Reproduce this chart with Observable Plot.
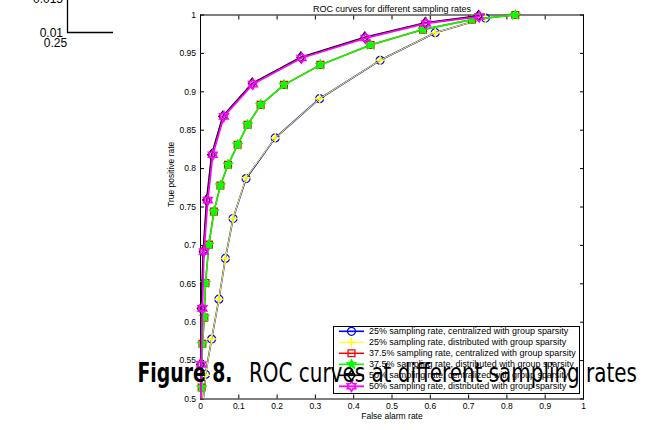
<!DOCTYPE html>
<html><head><meta charset="utf-8">
<script src="https://cdn.jsdelivr.net/npm/d3@7"></script>
<script src="https://cdn.jsdelivr.net/npm/@observablehq/plot@0.6"></script>
<style>html,body{margin:0;padding:0;background:#fff;} #chart{width:654px;height:430px;overflow:hidden;position:relative;}</style>
</head><body><div id="chart"></div>
<script>
// ---- data ----
const seriesNames = [
  "25% sampling rate, centralized with group sparsity",
  "25% sampling rate, distributed with group sparsity",
  "37.5% sampling rate, centralized with group sparsity",
  "37.5% sampling rate, distributed with group sparsity",
  "50% sampling rate, centralized with group sparsity",
  "50% sampling rate, distributed with group sparsity"
];
const fpr25c = [0.004, 0.013, 0.029, 0.048, 0.065, 0.085, 0.119, 0.195, 0.311, 0.469, 0.613, 0.744];
const tpr25c = [0.480, 0.532, 0.578, 0.630, 0.683, 0.735, 0.787, 0.840, 0.891, 0.941, 0.977, 0.996];
const fpr25d = [0.004, 0.013, 0.029, 0.048, 0.065, 0.085, 0.119, 0.195, 0.311, 0.469, 0.613, 0.744];
const tpr25d = [0.480, 0.531, 0.578, 0.630, 0.683, 0.735, 0.788, 0.840, 0.891, 0.941, 0.977, 0.996];
const fpr37c = [0.001, 0.003, 0.005, 0.010, 0.013, 0.022, 0.035, 0.052, 0.072, 0.097, 0.123, 0.157, 0.218, 0.313, 0.444, 0.581, 0.709, 0.822];
const tpr37c = [0.470, 0.515, 0.572, 0.606, 0.651, 0.701, 0.744, 0.778, 0.805, 0.831, 0.857, 0.883, 0.909, 0.935, 0.961, 0.981, 0.994, 1.000];
const fpr37d = [0.001, 0.003, 0.005, 0.010, 0.013, 0.022, 0.035, 0.052, 0.072, 0.097, 0.123, 0.157, 0.218, 0.313, 0.444, 0.581, 0.709, 0.822];
const tpr37d = [0.470, 0.515, 0.572, 0.607, 0.651, 0.701, 0.744, 0.778, 0.805, 0.831, 0.857, 0.883, 0.909, 0.935, 0.961, 0.981, 0.994, 1.000];
const fpr50c = [0.000, 0.000, 0.002, 0.007, 0.016, 0.029, 0.058, 0.135, 0.262, 0.429, 0.587, 0.726];
const tpr50c = [0.450, 0.545, 0.618, 0.692, 0.759, 0.818, 0.868, 0.911, 0.945, 0.971, 0.990, 0.999];
const fpr50d = [0.000, 0.002, 0.005, 0.009, 0.019, 0.032, 0.061, 0.137, 0.264, 0.431, 0.589, 0.728];
const tpr50d = [0.450, 0.545, 0.618, 0.692, 0.759, 0.818, 0.868, 0.910, 0.944, 0.970, 0.989, 0.998];
const xTicks = [0, 0.1, 0.2, 0.3, 0.4, 0.5, 0.6, 0.7, 0.8, 0.9, 1];
const yTicks = [0.5, 0.55, 0.6, 0.65, 0.7, 0.75, 0.8, 0.85, 0.9, 0.95, 1];
const titleText = "ROC curves for different sampling rates";
const xLabel = "False alarm rate";
const yLabel = "True positive rate";
const captionBold = "Figure 8.";
const captionRest = "ROC curves at different sampling rates";

// ---- symbols ----
const rad = s => Math.sqrt(s / Math.PI);
const symPlus = {draw(c, s){const r = rad(s)*1.2; c.moveTo(-r,0); c.lineTo(r,0); c.moveTo(0,-r); c.lineTo(0,r);}};
const symSquare = {draw(c, s){const r = rad(s)*0.85; c.rect(-r,-r,2*r,2*r);}};
const symCircle = {draw(c, s){const r = rad(s); c.moveTo(r,0); c.arc(0,0,r,0,2*Math.PI);}};
const symStar = {draw(c, s){const R = rad(s)*1.35, ri = R*0.42; for(let k=0;k<10;k++){const a=-Math.PI/2+k*Math.PI/5, rr=k%2?ri:R; k?c.lineTo(rr*Math.cos(a),rr*Math.sin(a)):c.moveTo(rr*Math.cos(a),rr*Math.sin(a));} c.closePath();}};
const symDiamond = {draw(c, s){const r = rad(s)*1.25; c.moveTo(0,-r); c.lineTo(r*0.75,0); c.lineTo(0,r); c.lineTo(-r*0.75,0); c.closePath();}};
const symHex = {draw(c, s){const R = rad(s)*1.25, ri = R/Math.sqrt(3); for(let k=0;k<12;k++){const a=-Math.PI/2+k*Math.PI/6, rr=k%2?ri:R; k?c.lineTo(rr*Math.cos(a),rr*Math.sin(a)):c.moveTo(rr*Math.cos(a),rr*Math.sin(a));} c.closePath();}};

const series = [
  {x: fpr25c, y: tpr25c, color: "#0000ff", sym: symCircle, fill: "none", lw: 1.6, mw: 1.2, r: 4},
  {x: fpr25d, y: tpr25d, color: "#ffff00", sym: symPlus, fill: "none", lw: 1, mw: 1.5, r: 4},
  {x: fpr37c, y: tpr37c, color: "#ff0000", sym: symSquare, fill: "none", lw: 1.5, mw: 1.3, r: 4},
  {x: fpr37d, y: tpr37d, color: "#00ff00", sym: symStar, fill: "#00ff00", lw: 1.6, mw: 1, r: 4},
  {x: fpr50c, y: tpr50c, color: "#000000", sym: symDiamond, fill: "none", lw: 1.6, mw: 1.5, r: 4},
  {x: fpr50d, y: tpr50d, color: "#ff00ff", sym: symHex, fill: "none", lw: 1.8, mw: 1.6, r: 4}
];

const marks = [];
for (const s of series) {
  const pts = s.x.map((v, i) => ({fpr: v, tpr: s.y[i]}));
  marks.push(Plot.line(pts, {x: "fpr", y: "tpr", stroke: s.color, strokeWidth: s.lw, clip: true}));
  marks.push(Plot.dot(pts.filter(d => d.tpr >= 0.5), {x: "fpr", y: "tpr", symbol: s.sym, r: s.r, stroke: s.color, fill: s.fill, strokeWidth: s.mw}));
}

const plot = Plot.plot({
  width: 654, height: 430,
  marginLeft: 200, marginRight: 71, marginTop: 14.5, marginBottom: 31.5,
  style: {fontFamily: "'Liberation Sans', Arial, sans-serif", fontSize: "8.5px", color: "black", background: "white"},
  x: {domain: [0, 1]},
  y: {domain: [0.5, 1]},
  marks: [
    Plot.frame({stroke: "black", strokeWidth: 1}),
    Plot.axisX(xTicks, {anchor: "bottom", tickSize: -4, tickPadding: 7.5, tickFormat: d => String(Math.round(d*10)/10), label: null}),
    Plot.axisX(xTicks, {anchor: "top", tickSize: -4, tickFormat: () => "", label: null}),
    Plot.axisY(yTicks, {anchor: "left", tickSize: -4, tickPadding: 8.5, tickFormat: d => String(Math.round(d*100)/100), label: null}),
    Plot.axisY(yTicks, {anchor: "right", tickSize: -4, tickFormat: () => "", label: null}),
    ...marks,
    Plot.text([titleText], {frameAnchor: "top", dy: -9, fontSize: 9, fill: "black"}),
    Plot.text([xLabel], {frameAnchor: "bottom", dy: 20, fontSize: 8.5, fill: "black"}),
    Plot.text([yLabel], {frameAnchor: "left", dx: -29, rotate: -90, fontSize: 8.5, fill: "black"})
  ]
});
document.getElementById("chart").appendChild(plot);

// ---- legend, caption, and stray fragment (pixel layout) ----
const svg = d3.select(plot);
const font = "'Liberation Sans', Arial, sans-serif";
const lg = svg.append("g").attr("text-anchor", "start");
lg.append("rect").attr("x", 333.5).attr("y", 326.5).attr("width", 246).attr("height", 67)
  .attr("fill", "white").attr("stroke", "black").attr("stroke-width", 1);
series.forEach((s, i) => {
  const y = 331.3 + i * 11.0;
  lg.append("line").attr("x1", 339).attr("x2", 364).attr("y1", y).attr("y2", y)
    .attr("stroke", s.color).attr("stroke-width", s.lw);
  const p = d3.path(); s.sym.draw(p, Math.PI * s.r * s.r);
  lg.append("path").attr("d", p.toString()).attr("transform", `translate(351.5,${y})`)
    .attr("stroke", s.color).attr("fill", s.fill).attr("stroke-width", s.mw);
  lg.append("text").attr("x", 369).attr("y", y).attr("dy", "0.35em").attr("text-anchor", "start")
    .attr("font-family", font).attr("font-size", 8.95).attr("fill", "black").text(seriesNames[i]);
});
const capFont = "'Liberation Sans Narrow', 'DejaVu Sans Condensed', 'Liberation Sans', sans-serif";
svg.append("text").attr("x", 137.5).attr("y", 382).attr("text-anchor", "start").attr("font-family", capFont).attr("font-size", 27)
  .attr("font-weight", "bold").attr("textLength", 95).attr("lengthAdjust", "spacingAndGlyphs")
  .attr("fill", "black").text(captionBold);
svg.append("text").attr("x", 249).attr("y", 382).attr("text-anchor", "start").attr("font-family", capFont).attr("font-size", 27)
  .attr("textLength", 388).attr("lengthAdjust", "spacingAndGlyphs").attr("fill", "black").text(captionRest);
// fragment of a neighbouring figure at the top-left corner
const fr = svg.append("g");
fr.append("path").attr("d", "M67.5,0V32.5H113").attr("fill", "none").attr("stroke", "black").attr("stroke-width", 1.3);
fr.append("text").attr("x", 63).attr("y", 3).attr("text-anchor", "end").attr("font-family", font).attr("font-size", 12).text("0.015");
fr.append("text").attr("x", 63).attr("y", 37).attr("text-anchor", "end").attr("font-family", font).attr("font-size", 12).text("0.01");
fr.append("text").attr("x", 55.5).attr("y", 47).attr("text-anchor", "middle").attr("font-family", font).attr("font-size", 12).text("0.25");
</script>
</body></html>
